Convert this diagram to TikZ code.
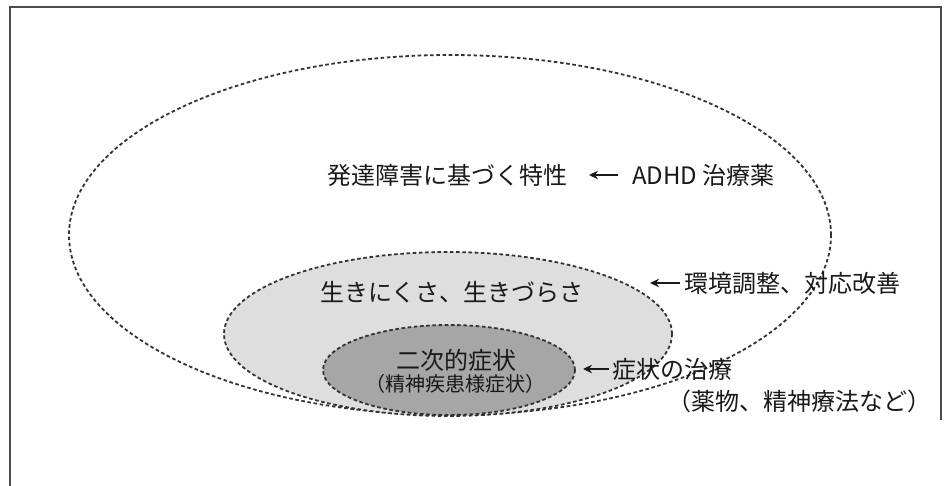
\documentclass[tikz,border=0pt]{standalone}
\usepackage{fontspec}
\setmainfont{Noto Sans CJK JP}
\usetikzlibrary{shapes.geometric,arrows.meta}
\begin{document}
\begin{tikzpicture}[x=1pt,y=-1pt,
  ring/.style={ellipse, draw=black!80, dash pattern=on 3.6pt off 2.6pt, line width=1.8pt, inner sep=0pt},
  lbl/.style={inner sep=0pt, font=\fontsize{24}{28}\selectfont, text=black!90},
  sublbl/.style={inner sep=0pt, font=\fontsize{20}{24}\selectfont, text=black!90},
  arr/.style={-{Stealth[length=9pt,width=8.5pt]}, line width=2.2pt, draw=black!90}]
\useasboundingbox (0,0) rectangle (947,486);
\draw[black!70, line width=1.5pt] (10,486) -- (10,7) -- (941,7) -- (941,420);
% ellipses
\node[ring, minimum width=762pt, minimum height=360pt] (outer) at (450,235) {};
\node[ring, fill=black!13, minimum width=448pt, minimum height=164pt] (mid) at (448,334) {};
\node[ring, fill=black!35, minimum width=252pt, minimum height=90pt] (inner) at (449,370) {};
% labels
\node[lbl, anchor=west] (trait) at (327,175) {発達障害に基づく特性};
\node[lbl, anchor=west] (adhd) at (632,175) {ADHD 治療薬};
\node[lbl] (life) at (452,292) {生きにくさ、生きづらさ};
\node[lbl] (sec) at (456,360) {二次的症状};
\node[sublbl] (secsub) at (455,384) {（精神疾患様症状）};
\node[lbl, anchor=west] (env) at (684,283) {環境調整、対応改善};
\node[lbl, anchor=west] (symptom) at (612,369) {症状の治療};
\node[lbl, anchor=west] (drugs) at (667,401) {（薬物、精神療法など）};
% arrows
\draw[arr] ([xshift=-14pt]adhd.west) -- ([xshift=-43pt]adhd.west);
\draw[arr] ([xshift=-4pt]env.west) -- ([xshift=-34pt]env.west);
\draw[arr] ([xshift=-3pt]symptom.west) -- ([xshift=-29pt]symptom.west);
\end{tikzpicture}
\end{document}
